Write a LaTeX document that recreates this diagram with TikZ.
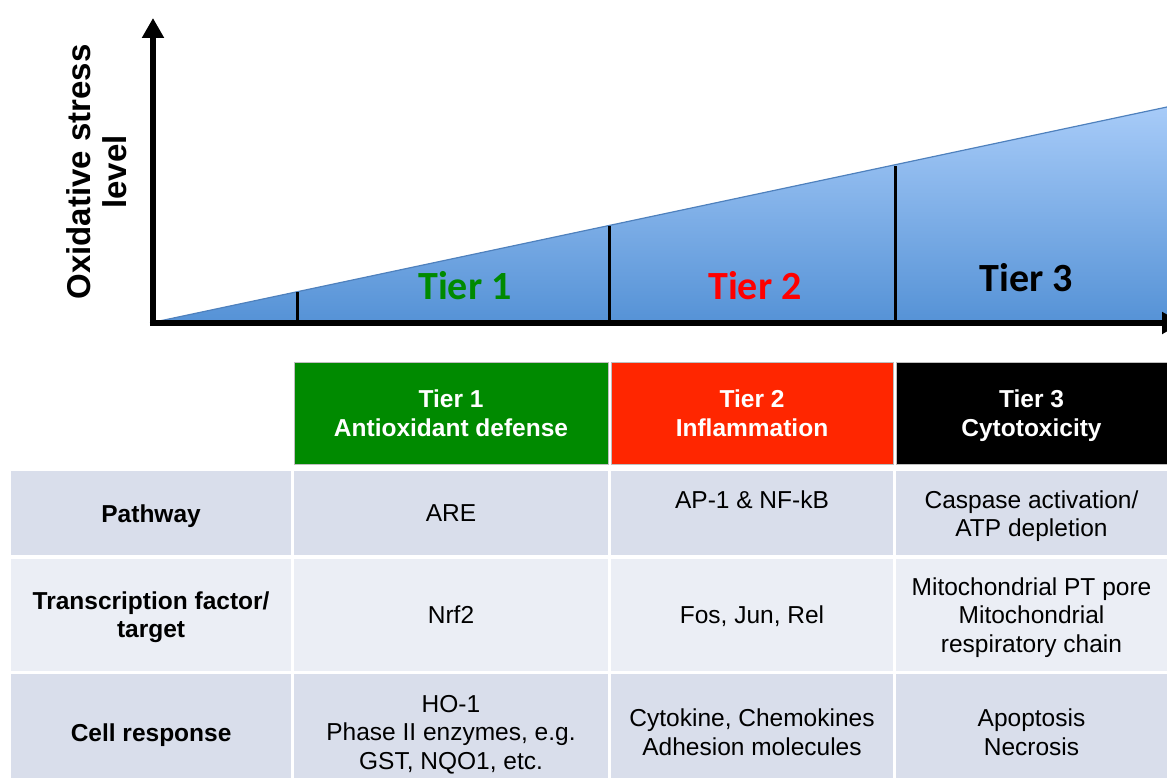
\documentclass[tikz,border=0pt]{standalone}
\usepackage{fontspec}
\setmainfont{Liberation Sans}
\newfontfamily\calibri{Carlito}
\usepackage{tikz}
\usetikzlibrary{positioning,arrows.meta}
\definecolor{tieronegreen}{HTML}{008A00}
\definecolor{tiertwored}{HTML}{FF2600}
\definecolor{rowdark}{HTML}{D9DEEB}
\definecolor{rowlight}{HTML}{EBEEF5}
\definecolor{wedgetop}{HTML}{A7CBF8}
\definecolor{wedgebot}{HTML}{5592D6}
\definecolor{wedgeedge}{HTML}{4F81BD}

\begin{document}
\begin{tikzpicture}[
    x=1pt, y=-1pt,
    axis/.style={line width=5.5pt, -{Triangle[width=21pt,length=20pt]}},
    tick/.style={line width=3pt},
    tier/.style={font=\calibri\bfseries\fontsize{40}{48}\selectfont, anchor=base},
    cell/.style={inner sep=0pt, align=center, text depth=0pt, font=\fontsize{24.5}{28.5}\selectfont},
    hd/.style={cell, text=white, font=\bfseries\fontsize{24.5}{28.5}\selectfont,
               minimum height=102pt, draw=black!25, line width=0.5pt},
    lab/.style={cell, font=\bfseries\fontsize{24.5}{28.5}\selectfont},
    c0/.style={minimum width=280pt},
    c1/.style={minimum width=314pt},
    c2/.style={minimum width=282pt},
    c3/.style={minimum width=271pt},
    r1/.style={minimum height=84pt, fill=rowdark},
    r2/.style={minimum height=112pt, fill=rowlight},
    r3/.style={minimum height=116pt, fill=rowdark},
    node distance=3pt and 2.5pt,
  ]
    \useasboundingbox (0,0) rectangle (1167,778);

    \shade[top color=wedgetop, bottom color=wedgebot] (150,323) -- (1167,107) -- (1167,323) -- cycle;
    \draw[wedgeedge, line width=1.2pt] (150,323) -- (1167,107);
    \foreach \t in {297,609,895}
      \draw[tick] (\t,323) -- (\t,{323-(\t-150)/1017*215});
    \draw[axis] (153,325) -- (153,18);
    \draw[axis] (150,323) -- (1182,323);

    \node[align=center, rotate=90, font=\bfseries\fontsize{33}{36}\selectfont] (ylab) at (97,172) {Oxidative stress\\level};
    \node[tier, text=tieronegreen] (t1) at (465,299) {Tier 1};
    \node[tier, text=red] (t2) at (755,299) {Tier 2};
    \node[tier, text=black] (t3) at (1026,291) {Tier 3};

    \node[hd, c1, fill=tieronegreen] (h1) at (451,413) {Tier 1\\Antioxidant defense};
    \node[hd, c2, fill=tiertwored, right=of h1] (h2) {Tier 2\\Inflammation};
    \node[hd, c3, fill=black, right=of h2] (h3) {Tier 3\\Cytotoxicity};

    \node[cell, r1, c1, below=7pt of h1] (are) {ARE};
    \node[cell, r1, c2, below=7pt of h2] (ap1) {AP-1 \& NF-kB\\\mbox{}};
    \node[cell, r1, c3, below=7pt of h3] (caspase) {Caspase activation/\\ATP depletion};
    \node[lab, r1, c0, left=of are] (pathway) {Pathway};

    \node[cell, r2, c1, below=of are] (nrf2) {Nrf2};
    \node[cell, r2, c2, below=of ap1] (fos) {Fos, Jun, Rel};
    \node[cell, r2, c3, below=of caspase] (mito) {Mitochondrial PT pore\\Mitochondrial\\respiratory chain};
    \node[lab, r2, c0, left=of nrf2] (factor) {Transcription factor/\\target};

    \node[cell, r3, c1, below=of nrf2] (ho1) {HO-1\\Phase II enzymes, e.g.\\GST, NQO1, etc.};
    \node[cell, r3, c2, below=of fos] (cyto) {Cytokine, Chemokines\\Adhesion molecules};
    \node[cell, r3, c3, below=of mito] (apop) {Apoptosis\\Necrosis};
    \node[lab, r3, c0, left=of ho1] (response) {Cell response};
  \end{tikzpicture}
\end{document}
